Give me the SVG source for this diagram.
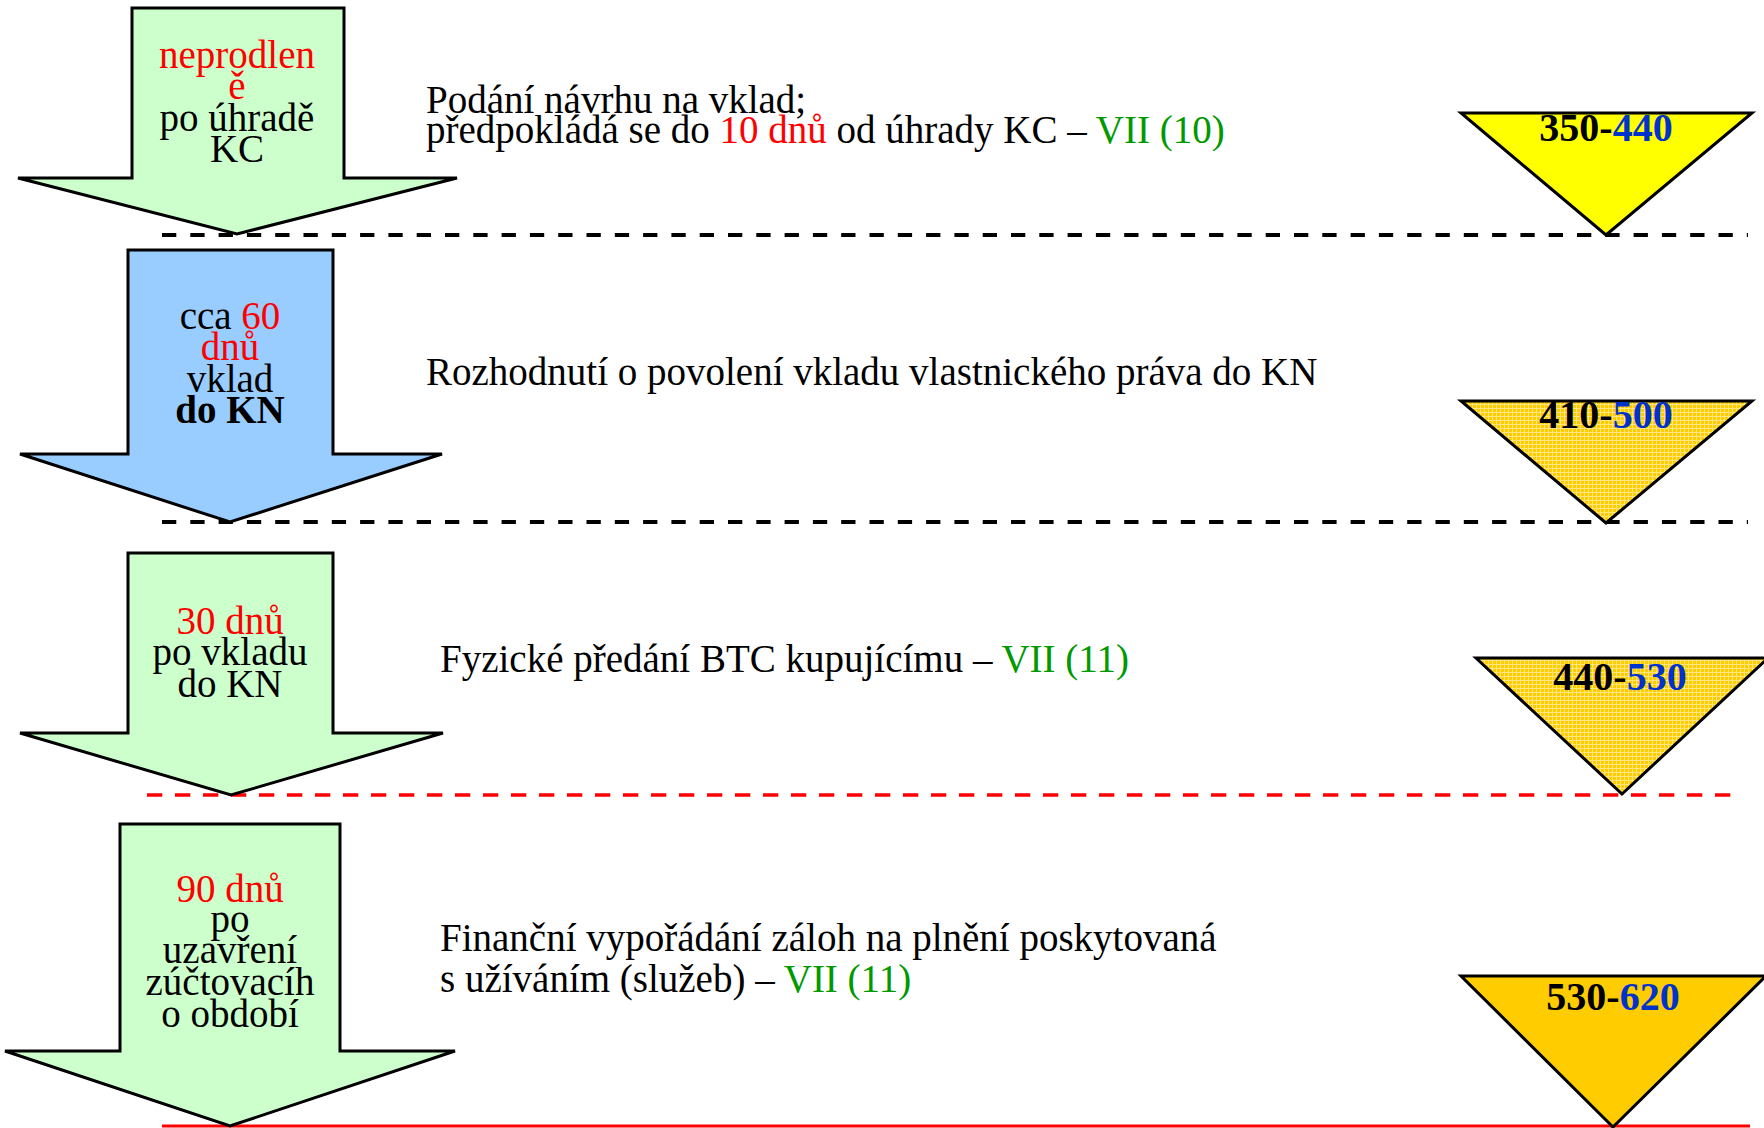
<svg xmlns="http://www.w3.org/2000/svg" width="1764" height="1128" viewBox="0 0 1764 1128">
<style>
.t{font-family:"Liberation Serif","DejaVu Serif",serif;font-size:39px;fill:#000}
.c{text-anchor:middle}
.r{fill:#FF0000}
.g{fill:#009900}
.b{fill:#0033CC}
.lbl{font-family:"Liberation Serif","DejaVu Serif",serif;font-size:40px;font-weight:bold;fill:#000;text-anchor:middle}
.arrow{stroke:#000;stroke-width:3;stroke-linejoin:miter}
.green{fill:#CCFFCC}
.blue{fill:#99CCFF}
.tri{stroke:#000;stroke-width:3;stroke-linejoin:miter}
.dash{stroke:#000;stroke-width:4;stroke-dasharray:14.3 14;fill:none}
.rdash{stroke:#FF0000;stroke-width:3.5;stroke-dasharray:15.3 12.7;fill:none}
.rsolid{stroke:#FF0000;stroke-width:3;fill:none}
</style>
<defs>
<pattern id="grid" width="4" height="4" patternUnits="userSpaceOnUse">
<rect width="4" height="4" fill="#FFCC00"/>
<path d="M0 0.5H4M0.5 0V4" stroke="#FFE680" stroke-width="1"/>
</pattern>
</defs>
<rect width="1764" height="1128" fill="#FFFFFF"/>

<g id="lines">
<line class="dash" x1="162" y1="235" x2="1748" y2="235"/>
<line class="dash" x1="162" y1="522" x2="1748" y2="522"/>
<line class="rdash" x1="147" y1="795" x2="1732" y2="795"/>
<line class="rsolid" x1="162" y1="1126" x2="1750" y2="1126"/>
</g>

<g id="arrow1">
<polygon class="arrow green" points="132,8 344,8 344,178 457,178 237,234 18,178 132,178"/>
<text class="t c" x="237" y="68"><tspan class="r">neprodlen</tspan></text>
<text class="t c" x="237" y="99"><tspan class="r">ě</tspan></text>
<text class="t c" x="237" y="131">po úhradě</text>
<text class="t c" x="237" y="162">KC</text>
</g>

<g id="arrow2">
<polygon class="arrow blue" points="128,250 333,250 333,454 442,454 230,522 20,454 128,454"/>
<text class="t c" x="230" y="329">cca <tspan class="r">60</tspan></text>
<text class="t c" x="230" y="360"><tspan class="r">dnů</tspan></text>
<text class="t c" x="230" y="392">vklad</text>
<text class="t c" x="230" y="423" font-weight="bold">do KN</text>
</g>

<g id="arrow3">
<polygon class="arrow green" points="128,553 333,553 333,733 443,733 231,795 20,733 128,733"/>
<text class="t c" x="230" y="634"><tspan class="r">30 dnů</tspan></text>
<text class="t c" x="230" y="665">po vkladu</text>
<text class="t c" x="230" y="697">do KN</text>
</g>

<g id="arrow4">
<polygon class="arrow green" points="120,824 340,824 340,1051 455,1051 230,1126 5,1051 120,1051"/>
<text class="t c" x="230" y="902"><tspan class="r">90 dnů</tspan></text>
<text class="t c" x="230" y="932">po</text>
<text class="t c" x="230" y="963">uzavření</text>
<text class="t c" x="230" y="995">zúčtovacíh</text>
<text class="t c" x="230" y="1027">o období</text>
</g>

<g id="step1">
<text class="t" x="426" y="113">Podání návrhu na vklad;</text>
<text class="t" x="426" y="143">předpokládá se do <tspan class="r">10 dnů</tspan> od úhrady KC – <tspan class="g">VII (10)</tspan></text>
</g>

<g id="step2">
<text class="t" x="426" y="385">Rozhodnutí o povolení vkladu vlastnického práva do KN</text>
</g>

<g id="step3">
<text class="t" x="440" y="672">Fyzické předání BTC kupujícímu – <tspan class="g">VII (11)</tspan></text>
</g>

<g id="step4">
<text class="t" x="440" y="951">Finanční vypořádání záloh na plnění poskytovaná</text>
<text class="t" x="440" y="992">s užíváním (služeb) – <tspan class="g">VII (11)</tspan></text>
</g>

<g id="tri1">
<polygon class="tri" fill="#FFFF00" points="1461,113 1752,113 1606,235"/>
<text class="lbl" x="1606" y="141">350-<tspan class="b">440</tspan></text>
</g>

<g id="tri2">
<polygon class="tri" fill="url(#grid)" points="1461,401 1752,401 1606,523"/>
<text class="lbl" x="1606" y="428">410-<tspan class="b">500</tspan></text>
</g>

<g id="tri3">
<polygon class="tri" fill="url(#grid)" points="1476,658 1768,658 1622,794"/>
<text class="lbl" x="1620" y="690">440-<tspan class="b">530</tspan></text>
</g>

<g id="tri4">
<polygon class="tri" fill="#FFCC00" points="1461,976 1766,976 1613,1127"/>
<text class="lbl" x="1613" y="1010">530-<tspan class="b">620</tspan></text>
</g>
</svg>
